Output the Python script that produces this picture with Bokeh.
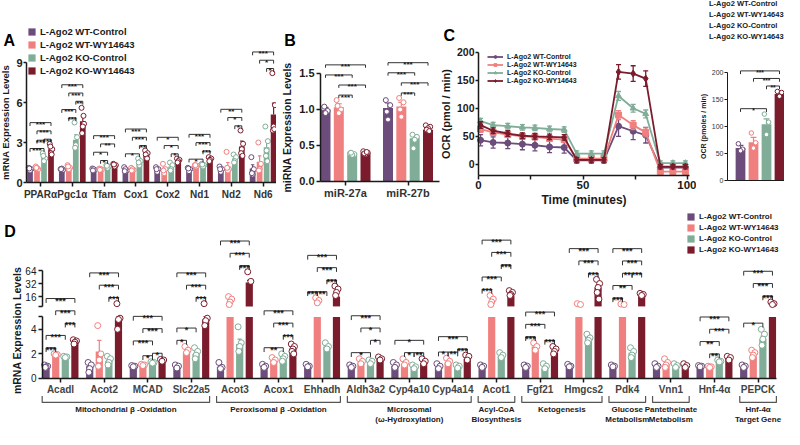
import math
from bokeh.plotting import figure
from bokeh.models import (Range1d, FixedTicker, Legend, LegendItem, LinearAxis, Label,
                          PrintfTickFormatter)
from bokeh.layouts import row, column
from bokeh.embed import file_html
from bokeh.resources import INLINE
from bokeh.core.properties import value

FONT = "Liberation Sans"
INK = "#1a1a1a"
GROUP_LABELS = ["L-Ago2 WT-Control", "L-Ago2 WT-WY14643", "L-Ago2 KO-Control", "L-Ago2 KO-WY14643"]
GROUP_COLORS = ["#6b4c7a", "#f0807f", "#80ad98", "#7b1c2c"]

# ---------------- Panel A : mitochondrial genes ----------------
genes_a = ["PPARα", "Pgc1α", "Tfam", "Cox1", "Cox2", "Nd1", "Nd2", "Nd6"]
a_wt_ctrl = [1.0, 1.0, 1.0, 1.0, 1.0, 1.0, 1.0, 1.05]
a_wt_wy = [1.1, 1.15, 1.0, 1.0, 0.95, 1.25, 1.2, 1.55]
a_ko_ctrl = [1.9, 3.2, 1.2, 1.55, 1.2, 1.3, 1.8, 2.65]
a_ko_wy = [2.5, 4.6, 1.3, 2.1, 1.65, 1.75, 2.7, 5.1]
a_sem_wt_ctrl = [0.05, 0.03, 0.03, 0.07, 0.07, 0.06, 0.09, 0.28]
a_sem_wt_wy = [0.04, 0.07, 0.02, 0.05, 0.15, 0.03, 0.3, 0.45]
a_sem_ko_ctrl = [0.12, 0.38, 0.04, 0.12, 0.14, 0.05, 0.13, 0.5]
a_sem_ko_wy = [0.15, 0.33, 0.04, 0.12, 0.06, 0.06, 0.4, 0.85]
a_pts_wt_ctrl = [[1.1, 1.0, 0.9, 1.05], [1.0, 0.95, 1.05, 1.0], [1.05, 0.95, 1.0, 0.9],
                 [1.15, 0.9, 1.0, 0.85], [1.15, 1.0, 0.8, 1.0], [1.1, 1.0, 0.85, 1.05],
                 [1.2, 1.0, 0.8, 1.0], [1.9, 1.0, 0.6, 0.7]]
a_pts_wt_wy = [[1.2, 1.0, 1.1, 1.1], [1.3, 1.1, 1.0, 1.2], [1.05, 0.98, 1.0, 0.95],
               [1.1, 0.95, 1.0, 0.9], [1.4, 1.0, 0.7, 0.9], [1.3, 1.25, 1.2, 1.3],
               [2.3, 1.0, 0.9, 1.1], [3.0, 1.4, 1.0, 0.9]]
a_pts_ko_ctrl = [[2.2, 1.8, 1.6, 2.0], [4.5, 3.4, 2.8, 2.6], [1.3, 1.2, 1.1, 1.25],
                 [1.8, 1.6, 1.3, 1.5], [1.5, 1.3, 1.0, 0.9], [1.4, 1.3, 1.2, 1.35],
                 [2.1, 1.9, 1.6, 1.5], [4.2, 3.1, 2.4, 2.0, 1.6]]
a_pts_ko_wy = [[2.9, 2.5, 2.2, 2.7, 2.1], [5.6, 4.4, 4.2, 3.7, 5.0], [1.4, 1.3, 1.2, 1.35],
               [2.4, 2.2, 1.9, 2.1, 1.8], [1.8, 1.7, 1.6, 1.5], [1.9, 1.8, 1.7, 1.6],
               [3.9, 2.9, 2.5, 2.2, 2.0], [8.2, 5.8, 4.2, 3.9, 4.0]]
a_brackets = [
    (0, 0, 2, "***"), (0, 1, 2, "***"), (0, 2, 3, "***"), (0, 1, 3, "***"), (0, 0, 3, "***"),
    (1, 1, 2, "***"), (1, 0, 2, "***"), (1, 2, 3, "**"), (1, 1, 3, "***"), (1, 0, 3, "***"),
    (2, 1, 2, "*"), (2, 0, 2, "*"), (2, 1, 3, "**"), (2, 0, 3, "***"),
    (3, 0, 2, "*"), (3, 2, 3, "**"), (3, 1, 3, "***"), (3, 0, 3, "***"),
    (4, 2, 3, "*"), (4, 1, 3, "*"), (4, 0, 3, "*"),
    (5, 0, 2, "*"), (5, 2, 3, "***"), (5, 1, 3, "***"), (5, 0, 3, "***"),
    (6, 2, 3, "*"), (6, 1, 3, "*"), (6, 0, 3, "**"),
    (7, 2, 3, "*"), (7, 1, 3, "*"), (7, 0, 3, "***"),
]

# ---------------- Panel B : miRNAs ----------------
mirs_b = ["miR-27a", "miR-27b"]
b_wt_ctrl = [1.0, 1.02]
b_wt_wy = [1.03, 1.04]
b_ko_ctrl = [0.38, 0.6]
b_ko_wy = [0.4, 0.72]
b_sem_wt_ctrl = [0.03, 0.07]
b_sem_wt_wy = [0.05, 0.06]
b_sem_ko_ctrl = [0.01, 0.04]
b_sem_ko_wy = [0.01, 0.02]
b_pts_wt_ctrl = [[1.02, 0.98, 0.95, 1.04], [1.13, 1.06, 0.86, 0.97]]
b_pts_wt_wy = [[1.13, 1.0, 0.95, 1.05], [1.16, 1.1, 0.9, 1.0]]
b_pts_ko_ctrl = [[0.39, 0.38, 0.37, 0.4], [0.65, 0.62, 0.58, 0.46]]
b_pts_ko_wy = [[0.42, 0.4, 0.38, 0.39, 0.41], [0.78, 0.76, 0.74, 0.72, 0.7]]
b_brackets = [(0, 1, 2, "***"), (0, 1, 3, "***"), (0, 0, 2, "***"), (0, 0, 3, "***"),
              (1, 1, 2, "***"), (1, 1, 3, "***"), (1, 0, 2, "***"), (1, 0, 3, "***")]

# ---------------- Panel C : OCR time course ----------------
c_time = [1, 7, 14, 21, 27, 34, 41, 47, 54, 60, 67, 74, 80, 87, 93, 99]
c_wt_ctrl = [43, 39, 38, 36, 34, 31, 30, 7, 7, 7, 68, 59, 52, -6, -6, -6]
c_wt_wy = [63, 57, 53, 50, 49, 46, 44, 10, 10, 10, 88, 70, 57, -13, -13, -13]
c_ko_ctrl = [77, 70, 68, 66, 65, 63, 62, 19, 19, 19, 122, 100, 90, 2, 2, 2]
c_ko_wy = [70, 60, 55, 51, 50, 49, 48, 8, 8, 8, 165, 162, 153, -4, -4, -4]
c_sem_wt_ctrl = [10, 10, 10, 10, 10, 10, 10, 5, 5, 5, 18, 15, 14, 4, 4, 4]
c_sem_wt_wy = [6, 5, 5, 5, 5, 5, 5, 4, 4, 4, 8, 8, 8, 4, 4, 4]
c_sem_ko_ctrl = [5, 5, 5, 5, 5, 5, 5, 5, 5, 5, 8, 7, 7, 4, 4, 4]
c_sem_ko_wy = [6, 5, 5, 5, 5, 5, 5, 4, 4, 4, 13, 14, 14, 4, 4, 4]
c_markers = ["circle", "square", "triangle", "diamond"]

# inset: maximal OCR
ci_mean = [60, 71, 104, 160]
ci_sem = [5, 9, 10, 4]
ci_pts = [[68, 58, 55], [88, 70, 60], [123, 108, 85], [165, 163, 156]]
ci_brackets = [(0, 0, 2, "*"), (0, 2, 3, "**"), (0, 1, 3, "***"), (0, 0, 3, "***")]

# ---------------- Panel D : PPARα target genes ----------------
genes_d = ["Acadl", "Acot2", "MCAD", "Slc22a5", "Acot3", "Acox1", "Ehhadh", "Aldh3a2",
           "Cyp4a10", "Cyp4a14", "Acot1", "Fgf21", "Hmgcs2", "Pdk4", "Vnn1", "Hnf-4α", "PEPCK"]
d_wt_ctrl = [1.0, 1.0, 1.0, 0.95, 0.95, 1.0, 1.0, 0.95, 1.0, 0.9, 1.0, 0.9, 1.0, 1.0, 1.0, 1.0, 1.0]
d_wt_wy = [1.95, 2.2, 1.1, 2.2, 9.0, 1.45, 9.0, 1.3, 1.2, 1.3, 9.0, 2.6, 9.0, 9.0, 1.15, 0.95, 1.8]
d_ko_ctrl = [1.75, 1.45, 1.3, 2.0, 2.8, 1.7, 2.6, 1.3, 0.95, 0.95, 1.8, 0.8, 3.4, 2.1, 1.0, 1.4, 3.2]
d_ko_wy = [3.0, 4.8, 1.5, 4.8, 34.0, 2.4, 16.0, 1.5, 1.25, 1.6, 17.0, 2.1, 26.0, 17.0, 1.0, 1.6, 9.0]
d_sem_wt_ctrl = [0.04, 0.15, 0.02, 0.05, 0.1, 0.05, 0.04, 0.04, 0.08, 0.08, 0.04, 0.05, 0.04, 0.03, 0.06, 0.02, 0.04]
d_sem_wt_wy = [0.03, 0.9, 0.02, 0.1, 1.0, 0.08, 0.8, 0.08, 0.1, 0.1, 1.0, 0.15, 0.3, 0.2, 0.15, 0.02, 0.12]
d_sem_ko_ctrl = [0.03, 0.15, 0.02, 0.18, 0.4, 0.12, 0.12, 0.06, 0.06, 0.05, 0.08, 0.08, 0.15, 0.18, 0.06, 0.03, 0.25]
d_sem_ko_wy = [0.08, 0.25, 0.04, 0.4, 4.0, 0.15, 2.5, 0.06, 0.08, 0.1, 1.2, 0.15, 4.0, 0.6, 0.06, 0.06, 0.5]
d_pts_wt_ctrl = [[1.1, 1.0, 0.95, 0.9], [1.3, 1.1, 0.8, 0.5], [1.05, 1.0, 0.95], [1.1, 1.0, 0.85],
                 [1.3, 0.9, 0.8], [1.15, 1.0, 0.9], [1.15, 1.0, 0.95], [1.1, 1.0, 0.9],
                 [1.3, 1.1, 0.9], [1.2, 1.0, 0.8], [1.1, 1.0, 0.9], [1.1, 1.0, 0.9],
                 [1.15, 1.0, 0.95], [1.1, 1.0, 0.95], [1.2, 1.0, 0.9], [1.05, 1.0, 0.95], [1.1, 1.0, 0.9]]
d_pts_wt_wy = [[2.0, 1.95, 1.9], [4.3, 2.0, 1.5, 1.0], [1.15, 1.1, 1.05], [2.6, 2.3, 2.1],
               [16.0, 14.0, 12.0, 10.5], [1.7, 1.5, 1.3], [15.0, 13.0, 11.5], [1.6, 1.4, 1.2],
               [1.6, 1.3, 1.1], [1.65, 1.4, 1.2], [17.0, 14.0, 12.0, 10.5], [2.9, 2.6, 2.3],
               [11.0, 10.5], [10.8, 10.5], [1.6, 1.3, 1.1, 0.9], [1.0, 0.95, 0.9], [2.3, 2.1, 1.9, 1.7]]
d_pts_ko_ctrl = [[1.8, 1.75, 1.7], [1.8, 1.6, 1.3, 1.1], [1.35, 1.3, 1.25], [2.5, 2.2, 1.9, 1.6],
                 [4.2, 2.9, 2.6, 2.2], [2.0, 1.8, 1.6, 1.4], [2.9, 2.6, 2.4], [1.5, 1.4, 1.2],
                 [1.1, 0.95, 0.8], [1.1, 1.0, 0.85], [2.1, 1.9, 1.7], [1.2, 1.0, 0.8],
                 [3.6, 3.3, 3.1, 2.9], [2.5, 2.2, 1.9, 1.7], [1.2, 1.05, 0.9], [1.5, 1.4, 1.35],
                 [4.0, 3.6, 3.2, 2.7]]
d_pts_ko_wy = [[3.15, 3.05, 2.95, 2.8], [11.0, 4.9, 4.8, 4.0], [1.55, 1.5, 1.4], [11.0, 4.9, 4.7, 4.3],
               [60.0, 36.0], [2.8, 2.6, 2.4, 2.2, 2.0], [28.0, 24.0, 20.0, 17.0], [1.75, 1.6, 1.5],
               [1.6, 1.4, 1.2], [1.9, 1.8, 1.5], [22.0, 20.0, 18.0, 17.0], [2.6, 2.4, 2.2, 2.0],
               [40.0, 32.0, 26.0, 20.0, 14.0], [19.0, 18.0, 17.0], [1.2, 1.05, 0.9], [1.8, 1.7, 1.5],
               [12.0, 11.0, 10.5]]
d_brackets = [
    (0, 0, 1, "***"), (0, 0, 2, "***"), (0, 2, 3, "***"), (0, 1, 3, "***"), (0, 0, 3, "***"),
    (1, 2, 3, "***"), (1, 1, 3, "***"), (1, 0, 3, "***"),
    (2, 1, 2, "*"), (2, 2, 3, "*"), (2, 0, 2, "***"), (2, 1, 3, "***"), (2, 0, 3, "***"),
    (3, 0, 1, "*"), (3, 0, 2, "*"), (3, 2, 3, "***"), (3, 1, 3, "***"), (3, 0, 3, "***"),
    (4, 2, 3, "***"), (4, 1, 3, "***"), (4, 0, 3, "***"),
    (5, 0, 2, "**"), (5, 2, 3, "***"), (5, 1, 3, "***"), (5, 0, 3, "***"),
    (6, 0, 1, "***"), (6, 1, 2, "**"), (6, 2, 3, "***"), (6, 1, 3, "***"), (6, 0, 3, "***"),
    (7, 0, 2, "*"), (7, 2, 3, "*"), (7, 1, 3, "*"), (7, 0, 3, "***"),
    (8, 1, 2, "*"), (8, 2, 3, "**"), (8, 0, 3, "*"),
    (9, 0, 1, "*"), (9, 1, 2, "**"), (9, 2, 3, "***"), (9, 0, 3, "***"),
    (10, 0, 1, "***"), (10, 0, 2, "***"), (10, 2, 3, "***"), (10, 1, 3, "***"), (10, 0, 3, "***"),
    (11, 2, 3, "***"), (11, 0, 1, "***"), (11, 0, 2, "***"), (11, 0, 3, "***"),
    (12, 2, 3, "***"), (12, 1, 3, "***"), (12, 0, 3, "***"),
    (13, 0, 1, "***"), (13, 0, 2, "**"), (13, 1, 2, "**"), (13, 2, 3, "***"), (13, 1, 3, "***"), (13, 0, 3, "***"),
    (15, 1, 2, "**"), (15, 0, 2, "**"), (15, 1, 3, "***"), (15, 0, 3, "***"),
    (16, 0, 2, "*"), (16, 2, 3, "***"), (16, 1, 3, "***"), (16, 0, 3, "***"),
]
d_groups = [("Mitochondrial β -Oxidation", 0, 3), ("Peroxisomal β -Oxidation", 4, 6),
            ("Microsomal\n(ω-Hydroxylation)", 7, 9), ("Acyl-CoA\nBiosynthesis", 10, 10),
            ("Ketogenesis", 11, 12), ("Glucose\nMetabolism", 13, 13),
            ("Pantetheinate\nMetabolism", 14, 14), ("Hnf-4α\nTarget Gene", 16, 16)]

# broken axis for panel D (lower linear 0-5, upper log2 segment)
LOW_MAX = 5.0
UP_MIN = 9.5
UP_BASE = 5.86
UP_PER_DOUBLING = 1.06


def disp_d(v):
    if v <= LOW_MAX:
        return v
    if v < UP_MIN:
        return LOW_MAX + (v - LOW_MAX) / (UP_MIN - LOW_MAX) * (UP_BASE - LOW_MAX)
    return UP_BASE + UP_PER_DOUBLING * math.log2(v / UP_MIN)


def ident(v):
    return v


JIT = [-0.22, 0.22, 0.0, -0.12, 0.12]


def make_fig(w, h, xr, yr, axes=True):
    kw = dict(width=w, height=h, x_range=Range1d(*xr), y_range=Range1d(*yr),
              output_backend="svg", toolbar_location=None, min_border=0,
              min_border_left=0, min_border_right=0, min_border_top=0, min_border_bottom=0)
    if not axes:
        kw.update(x_axis_type=None, y_axis_type=None)
    p = figure(**kw)
    p.xgrid.visible = False
    p.ygrid.visible = False
    p.outline_line_color = None
    return p


def style_axis(ax, size="11px", bold=True, color=INK, label_size="10px", tick=4, lw=1.5,
               standoff=2, label_standoff=3):
    ax.axis_line_width = lw
    ax.axis_line_color = INK
    ax.major_tick_line_width = lw
    ax.major_tick_line_color = INK
    ax.major_tick_out = tick
    ax.major_tick_in = 0
    ax.minor_tick_line_color = None
    ax.major_label_text_font = FONT
    ax.major_label_text_font_size = size
    ax.major_label_text_font_style = "bold" if bold else "normal"
    ax.major_label_text_color = color
    ax.axis_label_text_font = FONT
    ax.axis_label_text_font_size = label_size
    ax.axis_label_text_font_style = "bold"
    ax.axis_label_text_color = INK
    ax.major_label_standoff = standoff
    ax.axis_label_standoff = label_standoff


def fix_axes(p, y_axis_x, x_axis_y, xbounds, ybounds):
    p.xaxis[0].fixed_location = x_axis_y
    p.xaxis[0].bounds = xbounds
    p.yaxis[0].fixed_location = y_axis_x
    p.yaxis[0].bounds = ybounds


def draw_bars(p, n, means, sems, pts, offsets, bw, disp=ident, split=False, pt_size=5):
    rends = []
    tops = [[0.0] * 4 for _ in range(n)]
    for k in range(4):
        c = GROUP_COLORS[k]
        xs = [g + offsets[k] for g in range(n)]
        m = means[k]
        if split:
            r = p.vbar(x=xs, top=[min(v, LOW_MAX) for v in m], bottom=0, width=bw,
                       fill_color=c, line_color=None)
            ux = [x for x, v in zip(xs, m) if v > UP_MIN]
            ut = [disp(v) for v in m if v > UP_MIN]
            if ux:
                p.vbar(x=ux, top=ut, bottom=UP_BASE, width=bw, fill_color=c, line_color=None)
        else:
            r = p.vbar(x=xs, top=m, bottom=0, width=bw, fill_color=c, line_color=None)
        rends.append(r)
        ex, e0, e1 = [], [], []
        for x, v, s in zip(xs, m, sems[k]):
            if split and LOW_MAX < v < UP_MIN:
                continue
            ex.append(x)
            e0.append(disp(v))
            e1.append(disp(v + s))
        p.segment(x0=ex, y0=e0, x1=ex, y1=e1, line_color=c, line_width=1.2)
        p.segment(x0=[x - bw * 0.3 for x in ex], y0=e1, x1=[x + bw * 0.3 for x in ex], y1=e1,
                  line_color=c, line_width=1.2)
        px, py = [], []
        for g in range(n):
            vals = pts[k][g]
            for i, v in enumerate(vals):
                px.append(xs[g] + bw * JIT[i % len(JIT)])
                py.append(disp(v))
            tops[g][k] = max([disp(m[g] + sems[k][g])] + [disp(v) for v in vals])
        p.scatter(x=px, y=py, marker="circle", size=pt_size, fill_color="white",
                  line_color=c, line_width=1)
    return rends, tops


def draw_brackets(p, brs, tops, offsets, pad, step, leg, font_size, gap):
    placed = []
    xs, ys, tx, ty, tt = [], [], [], [], []
    for (g, i, j, lab) in brs:
        y = max(tops[g][i:j + 1]) + pad
        for (g2, i2, j2, y2) in placed:
            if g2 != g:
                continue
            strict = i < j2 and i2 < j
            touch = (j == i2 or j2 == i)
            both_adj = (j - i == 1 and j2 - i2 == 1)
            if strict or (touch and not both_adj):
                y = max(y, y2 + step)
        placed.append((g, i, j, y))
        x1, x2 = g + offsets[i], g + offsets[j]
        xs.append([x1, x1, x2, x2])
        ys.append([y - leg, y, y, y - leg])
        tx.append((x1 + x2) / 2)
        ty.append(y + gap)
        tt.append(lab)
    p.multi_line(xs=xs, ys=ys, line_color="#333333", line_width=1)
    p.text(x=tx, y=ty, text=tt, text_align="center", text_baseline="alphabetic",
           text_font=value(FONT), text_font_size=font_size, text_font_style="bold",
           text_color=INK)


def style_legend(leg, fs, gh, gw, spacing, standoff=4):
    leg.label_text_font = FONT
    leg.label_text_font_size = fs
    leg.label_text_font_style = "bold"
    leg.label_text_color = INK
    leg.label_height = gh
    leg.glyph_height = gh
    leg.glyph_width = gw
    leg.label_standoff = standoff
    leg.spacing = spacing
    leg.padding = 0
    leg.margin = 0
    leg.border_line_color = None
    leg.background_fill_alpha = 0


def letter(p, x, y, t):
    p.add_layout(Label(x=x, y=y, text=t, text_font=FONT, text_font_size="16px",
                       text_font_style="bold", text_color="#000000", text_baseline="middle"))


# ======================= Panel A =======================
OFF4 = [-0.33, -0.11, 0.11, 0.33]
pA = make_fig(276, 210, (-1.258, 7.421), (-2.1, 13.65))
rendA, topsA = draw_bars(pA, 8, [a_wt_ctrl, a_wt_wy, a_ko_ctrl, a_ko_wy],
                         [a_sem_wt_ctrl, a_sem_wt_wy, a_sem_ko_ctrl, a_sem_ko_wy],
                         [a_pts_wt_ctrl, a_pts_wt_wy, a_pts_ko_ctrl, a_pts_ko_wy], OFF4, 0.18, pt_size=5)
draw_brackets(pA, a_brackets, topsA, OFF4, 0.35, 0.62, 0.25, "8px", -0.15)
fix_axes(pA, -0.44, 0, (-0.44, 7.421), (0, 9))
style_axis(pA.xaxis[0], size="10px", color="#333333")
pA.xaxis.ticker = FixedTicker(ticks=list(range(8)))
pA.xaxis.major_label_overrides = {i: genes_a[i] for i in range(8)}
style_axis(pA.yaxis[0], size="11px", label_size="9.5px", tick=3, standoff=1, label_standoff=2)
pA.yaxis.ticker = FixedTicker(ticks=[0, 3, 6, 9])
pA.yaxis.axis_label = "mRNA Expression Levels"
legA = Legend(items=[LegendItem(label=GROUP_LABELS[k], renderers=[rendA[k]]) for k in range(4)],
              location=(27, 134))
style_legend(legA, "9.5px", 9, 9, 2)
pA.add_layout(legA)
letter(pA, -1.163, 10.65, "A")

# ======================= Panel B =======================
OFFB = [-0.32, -0.107, 0.107, 0.32]
pB = make_fig(164, 210, (-1.104, 1.52), (-0.403, 2.514))
rendB, topsB = draw_bars(pB, 2, [b_wt_ctrl, b_wt_wy, b_ko_ctrl, b_ko_wy],
                         [b_sem_wt_ctrl, b_sem_wt_wy, b_sem_ko_ctrl, b_sem_ko_wy],
                         [b_pts_wt_ctrl, b_pts_wt_wy, b_pts_ko_ctrl, b_pts_ko_wy], OFFB, 0.16, pt_size=5)
draw_brackets(pB, b_brackets, topsB, OFFB, 0.07, 0.14, 0.04, "8px", -0.027)
fix_axes(pB, -0.4, 0, (-0.4, 1.5), (0, 1.5))
style_axis(pB.xaxis[0], size="11px", color="#333333")
pB.xaxis.ticker = FixedTicker(ticks=[0, 1])
pB.xaxis.major_label_overrides = {0: mirs_b[0], 1: mirs_b[1]}
style_axis(pB.yaxis[0], size="11px", label_size="10.5px", tick=4, standoff=2, label_standoff=3)
pB.yaxis.ticker = FixedTicker(ticks=[0, 0.5, 1.0, 1.5])
pB.yaxis.formatter = PrintfTickFormatter(format="%.1f")
pB.yaxis.axis_label = "miRNA Expression Levels"
letter(pB, -0.98, 1.958, "B")

# ======================= Panel C =======================
pC = make_fig(256, 210, (-18.18, 104.3), (-82.5, 292.5))
c_series = [c_wt_ctrl, c_wt_wy, c_ko_ctrl, c_ko_wy]
c_sems = [c_sem_wt_ctrl, c_sem_wt_wy, c_sem_ko_ctrl, c_sem_ko_wy]
legC_items = []
for k in range(4):
    col = GROUP_COLORS[k]
    ys = c_series[k]
    ss = c_sems[k]
    hi = [v + s for v, s in zip(ys, ss)]
    lo = [v - s for v, s in zip(ys, ss)]
    pC.segment(x0=c_time, y0=lo, x1=c_time, y1=hi, line_color=col, line_width=1.3)
    pC.segment(x0=[t - 1.2 for t in c_time], y0=hi, x1=[t + 1.2 for t in c_time], y1=hi,
               line_color=col, line_width=1.3)
    pC.segment(x0=[t - 1.2 for t in c_time], y0=lo, x1=[t + 1.2 for t in c_time], y1=lo,
               line_color=col, line_width=1.3)
    lr = pC.line(x=c_time, y=ys, line_color=col, line_width=1.8)
    sr = pC.scatter(x=c_time, y=ys, marker=c_markers[k], size=7 if k == 3 else 6,
                    fill_color=col, line_color=col)
    legC_items.append(LegendItem(label=GROUP_LABELS[k], renderers=[lr, sr]))
fix_axes(pC, 0, -20, (0, 101), (-20, 200))
style_axis(pC.xaxis[0], size="11.5px", label_size="12px", tick=4, standoff=1, label_standoff=1)
pC.xaxis.ticker = FixedTicker(ticks=[0, 25, 50, 75, 100])
pC.xaxis.major_label_overrides = {25: "", 75: ""}
pC.xaxis.axis_label = "Time (minutes)"
style_axis(pC.yaxis[0], size="10.5px", label_size="11px", tick=3, standoff=1, label_standoff=2)
pC.yaxis.ticker = FixedTicker(ticks=[0, 50, 100, 150, 200])
pC.yaxis.axis_label = "OCR (pmol / min)"
legC = Legend(items=legC_items, location=(47, 126))
style_legend(legC, "7px", 7, 16, 1)
pC.add_layout(legC)
letter(pC, -16.75, 230, "C")

# ---------- legend block (top right) ----------
pL = make_fig(88, 42, (0, 1), (0, 1), axes=False)
rendL = [pL.vbar(x=[], top=[], width=0.1, fill_color=GROUP_COLORS[k], line_color=None) for k in range(4)]
legL = Legend(items=[LegendItem(label=GROUP_LABELS[k], renderers=[rendL[k]]) for k in range(4)],
              location=(2, 1))
style_legend(legL, "7.5px", 8, 8, 2, standoff=3)
pL.add_layout(legL)

# ---------- inset : maximal OCR ----------
pI = make_fig(88, 168, (-3.385, 3.385), (-55.6, 255.6))
OFFI = [0, 1, 2, 3]
ci_means = [[ci_mean[k]] for k in range(4)]
ci_sems = [[ci_sem[k]] for k in range(4)]
ci_points = [[ci_pts[k]] for k in range(4)]
rendI, topsI = draw_bars(pI, 1, ci_means, ci_sems, ci_points, OFFI, 0.75, pt_size=4.5)
draw_brackets(pI, ci_brackets, topsI, OFFI, 10, 14, 6, "6.5px", -3.6)
fix_axes(pI, -1.0, 0, (-1.0, 3.385), (0, 200))
style_axis(pI.xaxis[0], size="7px", lw=1)
pI.xaxis.ticker = FixedTicker(ticks=[])
style_axis(pI.yaxis[0], size="7px", bold=False, color="#333333", label_size="7px", tick=3, lw=1,
           standoff=1, label_standoff=2)
pI.yaxis.ticker = FixedTicker(ticks=[0, 50, 100, 150, 200])
pI.yaxis.axis_label = "OCR (pmoles / min)"

# ======================= Panel D =======================
pD = make_fig(784, 219, (-1.376, 16.606), (-4.15, 13.66))
nD = len(genes_d)
rendD, topsD = draw_bars(pD, nD, [d_wt_ctrl, d_wt_wy, d_ko_ctrl, d_ko_wy],
                         [d_sem_wt_ctrl, d_sem_wt_wy, d_sem_ko_ctrl, d_sem_ko_wy],
                         [d_pts_wt_ctrl, d_pts_wt_wy, d_pts_ko_ctrl, d_pts_ko_wy], OFF4, 0.165,
                         disp=disp_d, split=True, pt_size=6)
draw_brackets(pD, d_brackets, topsD, OFF4, 0.5, 1.0, 0.35, "9px", -0.16)

YAX_X = -0.413
fix_axes(pD, YAX_X, 0, (YAX_X, 16.42), (0, LOW_MAX))
xa = pD.xaxis[0]
style_axis(xa, size="10px", color="#444444")
xa.ticker = FixedTicker(ticks=list(range(nD)))
xa.major_label_overrides = {i: genes_d[i] for i in range(nD)}

ya = pD.yaxis[0]
style_axis(ya, size="10px", bold=False)
ya.ticker = FixedTicker(ticks=[0, 2, 4, 5])
ya.major_label_overrides = {5: ""}

up_ticks = [round(UP_BASE, 4), round(disp_d(16), 4), round(disp_d(32), 4), round(disp_d(64), 4)]
yu = LinearAxis(fixed_location=YAX_X, bounds=(up_ticks[0], up_ticks[-1]),
                ticker=FixedTicker(ticks=up_ticks),
                major_label_overrides={up_ticks[0]: "", up_ticks[1]: "16", up_ticks[2]: "32", up_ticks[3]: "64"})
style_axis(yu, size="10px", bold=False)
pD.add_layout(yu, "left")

yl = LinearAxis(fixed_location=YAX_X, bounds=(0, 7.8), ticker=FixedTicker(ticks=[]),
                axis_label="mRNA Expression Levels")
style_axis(yl, label_size="10.5px")
yl.axis_line_color = None
yl.axis_label_standoff = 20
pD.add_layout(yl, "left")

# functional group annotations below gene names
gx, gy, lx, lt = [], [], [], []
for (lab, g0, g1) in d_groups:
    x0, x1 = g0 - 0.42, g1 + 0.42
    gx.append([x0, x0, x1, x1])
    gy.append([-1.42, -1.95, -1.95, -1.42])
    lx.append((g0 + g1) / 2)
    lt.append(lab)
pD.multi_line(xs=gx, ys=gy, line_color="#555555", line_width=1.2)
pD.text(x=lx, y=[-2.15] * len(lx), text=lt, text_align="center", text_baseline="top",
        text_font=value(FONT), text_font_size="8px", text_font_style="bold",
        text_color=INK, text_line_height=1.1)

legD = Legend(items=[LegendItem(label=GROUP_LABELS[k], renderers=[rendD[k]]) for k in range(4)],
              location=(686, 175))
style_legend(legD, "8px", 9, 9, 2)
pD.add_layout(legD)
letter(pD, -1.29, 11.95, "D")

page = column(row(pA, pB, pC, column(pL, pI)), pD)
open("out.html", "w").write(file_html(page, INLINE, "Ago2 PPARα figure"))
